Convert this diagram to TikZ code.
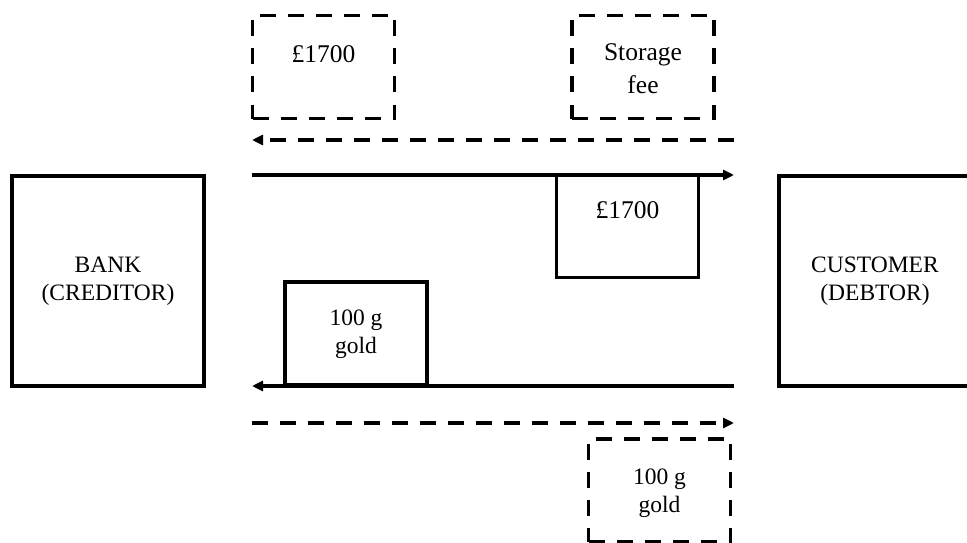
\documentclass[tikz,border=0pt]{standalone}
\usepackage{fontspec}
\setmainfont{Liberation Serif}
\usetikzlibrary{arrows.meta,positioning}

\begin{document}
\begin{tikzpicture}[
  x=1pt, y=-1pt,
  every node/.style={font=\fontsize{23.5}{28}\selectfont},
  party/.style={draw, line width=3.6pt, align=center,
    minimum width=192pt, minimum height=210pt},
  item/.style={draw, line width=3.6pt, minimum width=142pt, minimum height=103pt},
  dueitem/.style={item, dash pattern=on 16pt off 12pt},
  caption/.style={align=center, inner sep=0pt},
  bigcaption/.style={caption, font=\fontsize{25.5}{33}\selectfont},
  arrow/.style={line width=3.6pt, -{Triangle[length=11pt,width=10pt]}},
  duearrow/.style={arrow, dash pattern=on 16pt off 12pt}
]
\useasboundingbox (0,0) rectangle (967,543);
\clip (0,0) rectangle (967,543);

\node[party] (bank) at (108,281) {BANK\\(CREDITOR)};
\node[party] (customer) at (875,281) {CUSTOMER\\(DEBTOR)};

\node[dueitem] (repayBox) at (323.5,67) {};
\node[dueitem] (feeBox) at (643,67) {};
\node[item] (loanBox) at (627.5,226) {};
\node[item] (goldBox) at (356,333.5) {};
\node[dueitem] (returnBox) at (659.5,490.5) {};

\node[bigcaption, below=32pt of repayBox.north] (repayText) {£1700};
\node[bigcaption, below=30pt of feeBox.north] (feeText) {Storage\\fee};
\node[bigcaption, below=29pt of loanBox.north] (loanText) {£1700};
\node[caption, below=29pt of goldBox.north] (goldText) {100 g\\gold};
\node[caption, below=31pt of returnBox.north] (returnText) {100 g\\gold};

% ends of the flows
\coordinate (repayR) at (734,140);
\coordinate (repayL) at (252,140);
\coordinate (loanL) at (252,175);
\coordinate (loanR) at (734,175);
\coordinate (goldR) at (734,386);
\coordinate (goldL) at (252,386);
\coordinate (returnL) at (252,423);
\coordinate (returnR) at (734,423);

\draw[duearrow] (repayR) -- (repayL);
\draw[arrow] (loanL) -- (loanR);
\draw[arrow] (goldR) -- (goldL);
\draw[duearrow] (returnL) -- (returnR);
\end{tikzpicture}
\end{document}
